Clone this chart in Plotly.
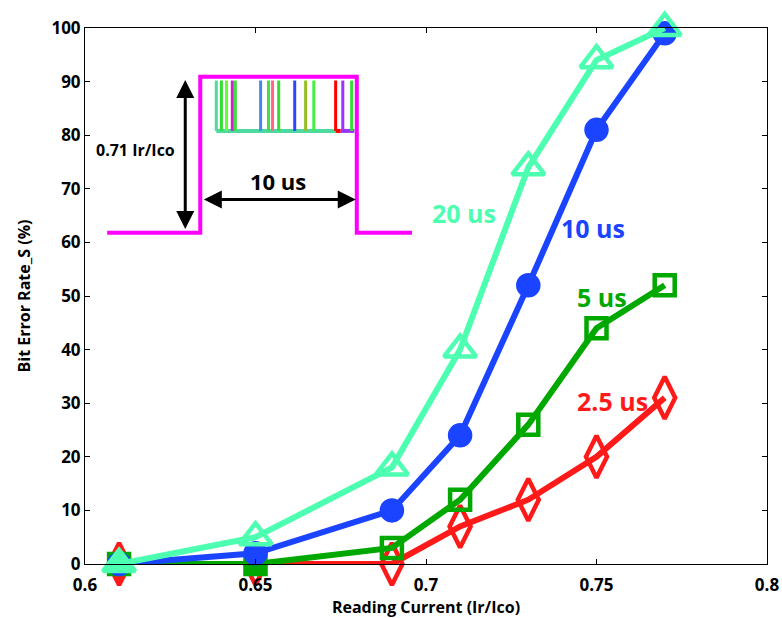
import plotly.graph_objects as go

# ---- data ----
reading_current = [0.61, 0.65, 0.69, 0.71, 0.73, 0.75, 0.77]
ber_20us = [0, 5, 18, 40, 74, 94, 100]
ber_10us = [0, 2, 10, 24, 52, 81, 99]
ber_5us = [0, 0, 3, 12, 26, 44, 52]
ber_2p5us = [0, 0, 0, 7, 12, 20, 31]
series_names = ["20 us", "10 us", "5 us", "2.5 us"]
series_colors = ["#4DFFB0", "#1A44FF", "#00A800", "#FF1A1A"]
x_ticks = [0.6, 0.65, 0.7, 0.75, 0.8]
x_tick_text = ["0.6", "0.65", "0.7", "0.75", "0.8"]
y_ticks = [0, 10, 20, 30, 40, 50, 60, 70, 80, 90, 100]

# inset pulse diagram (decoration)
pulse_x = [0.6065, 0.6338, 0.6338, 0.6797, 0.6797, 0.6959]
pulse_y = [61.8, 61.8, 90.9, 90.9, 61.8, 61.8]
bar_x = [0.6385, 0.6400, 0.6415, 0.6432, 0.6441, 0.6515, 0.6538, 0.6550,
         0.6568, 0.6615, 0.6647, 0.6671, 0.6735, 0.6756, 0.6782]
bar_colors = ["#4ED9A0", "#33DD33", "#66FF33", "#CC22CC", "#44DD44", "#4488EE",
              "#44DD44", "#FF6688", "#33DD33", "#3344FF", "#99BB22", "#44EE44",
              "#FF0000", "#9933FF", "#33DD33"]
bar_top, bar_bottom = 90.2, 80.8

FONT = "Open Sans"

fig = go.Figure()

series = [ber_20us, ber_10us, ber_5us, ber_2p5us]
n = len(reading_current)
symbols = [
    ["triangle-up"] + ["triangle-up-open"] * (n - 1),
    ["circle"] * n,
    ["square", "square"] + ["square-open"] * (n - 2),
    ["diamond-tall"] + ["diamond-tall-open"] * (n - 1),
]
sizes = [28, 20, 20, 30]
order = [3, 2, 1, 0]
for i in order:
    fig.add_trace(go.Scatter(
        x=reading_current, y=series[i], mode="lines+markers",
        name=series_names[i],
        line=dict(color=series_colors[i], width=6),
        marker=dict(symbol=symbols[i], size=sizes[i], color=series_colors[i],
                    line=dict(color=series_colors[i], width=4.5)),
        showlegend=False, cliponaxis=False,
    ))

shapes = []
# inner coloured bars
shapes.append(dict(type="line", xref="x", yref="y", x0=bar_x[0], x1=0.6735,
                   y0=bar_bottom, y1=bar_bottom, line=dict(color="#4ED9A0", width=4)))
shapes.append(dict(type="line", xref="x", yref="y", x0=0.6735, x1=0.6750,
                   y0=bar_bottom, y1=bar_bottom, line=dict(color="#FF0000", width=4)))
shapes.append(dict(type="line", xref="x", yref="y", x0=0.6750, x1=0.6790,
                   y0=bar_bottom, y1=bar_bottom, line=dict(color="#9933FF", width=4)))
for bx, bc in zip(bar_x, bar_colors):
    shapes.append(dict(type="line", xref="x", yref="y", x0=bx, x1=bx,
                       y0=bar_bottom, y1=bar_top, line=dict(color=bc, width=3)))
fig.update_layout(shapes=shapes)

# magenta pulse
fig.add_trace(go.Scatter(x=pulse_x, y=pulse_y, mode="lines",
                         line=dict(color="#FF00FF", width=4), showlegend=False,
                         hoverinfo="skip"))

ann = []
# vertical double arrow
ann.append(dict(x=0.6294, y=90.3, ax=0.6294, ay=62.2, xref="x", yref="y",
                axref="x", ayref="y", showarrow=True, arrowhead=2, startarrowhead=2,
                arrowside="end+start", arrowwidth=3, arrowsize=1.2, startarrowsize=1.2,
                arrowcolor="black", text=""))
# horizontal double arrow
ann.append(dict(x=0.6794, y=68.0, ax=0.6344, ay=68.0, xref="x", yref="y",
                axref="x", ayref="y", showarrow=True, arrowhead=2, startarrowhead=2,
                arrowside="end+start", arrowwidth=3, arrowsize=1.2, startarrowsize=1.2,
                arrowcolor="black", text=""))
ann.append(dict(x=0.6149, y=77.3, xref="x", yref="y", showarrow=False,
                text="<b>0.71 Ir/Ico</b>", font=dict(family=FONT, size=16, color="black")))
ann.append(dict(x=0.6565, y=71.5, xref="x", yref="y", showarrow=False,
                text="<b>10 us</b>", font=dict(family=FONT, size=22, color="black")))
label_pos = [(0.7112, 65.5), (0.7491, 62.6), (0.7515, 49.9), (0.7547, 30.4)]
for (lx, ly), name, col in zip(label_pos, series_names, series_colors):
    ann.append(dict(x=lx, y=ly, xref="x", yref="y", showarrow=False,
                    text="<b>" + name + "</b>", font=dict(family=FONT, size=25, color=col)))
fig.update_layout(annotations=ann)

axis_common = dict(showline=True, linecolor="black", linewidth=1, mirror="ticks",
                   ticks="inside", ticklen=5, tickcolor="black", showgrid=False,
                   zeroline=False, automargin=False,
                   tickfont=dict(family=FONT, size=17, color="black", weight="bold"))
fig.update_xaxes(range=[0.6, 0.8], tickvals=x_ticks, ticktext=x_tick_text,
                 ticklabelstandoff=6,
                 title=dict(text="<b>Reading Current (Ir/Ico)</b>", standoff=0,
                            font=dict(family=FONT, size=16, color="black")),
                 **axis_common)
fig.update_yaxes(range=[0, 100], tickvals=y_ticks,
                 title=dict(text="<b>Bit Error Rate_S (%)</b>", standoff=16,
                            font=dict(family=FONT, size=16, color="black")),
                 **axis_common)

fig.update_layout(width=782, height=618, paper_bgcolor="white", plot_bgcolor="white",
                  margin=dict(l=85, r=15, t=28, b=54), font=dict(family=FONT))

fig.write_html("out.html", config={"displayModeBar": False},
               post_script="document.body.style.margin='0';"
                           "document.body.style.overflow='hidden';")
